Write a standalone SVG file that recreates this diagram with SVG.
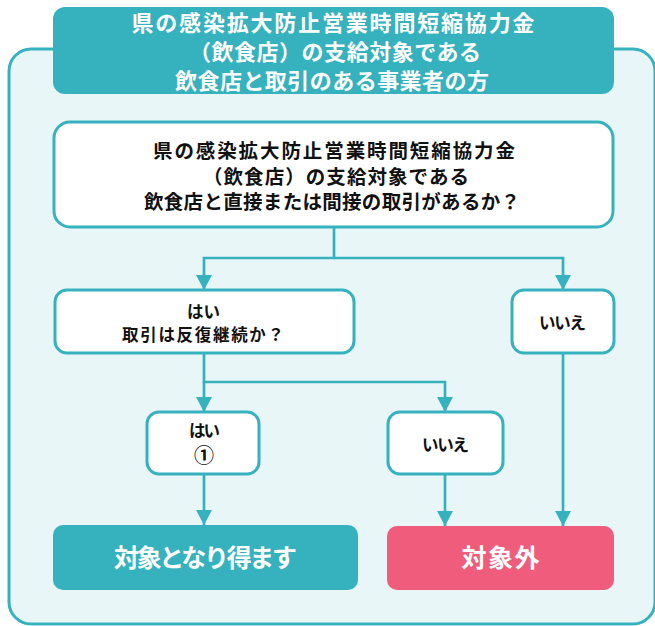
<svg xmlns="http://www.w3.org/2000/svg" width="655" height="626" viewBox="0 0 655 626">
<defs>
<style>
text{font-family:"Liberation Sans","Noto Sans CJK JP",sans-serif;font-weight:bold;text-anchor:middle;dominant-baseline:central}
.hd{fill:#fff;font-size:22px}
.q{fill:#111;font-size:19.5px}
.s{fill:#111;font-size:16.5px}
.res{fill:#fff;font-size:25px}
.box{fill:#fff;stroke:#36b2bf;stroke-width:3}
.con{fill:none;stroke:#36b2bf;stroke-width:2.7}
</style>
<marker id="ah" markerUnits="userSpaceOnUse" markerWidth="16" markerHeight="16" refX="15" refY="8" orient="auto" viewBox="0 0 16 16">
<path d="M0,0 L15,8 L0,16 z" fill="#36b2bf"/>
</marker>
</defs>
<rect id="bg" x="0" y="0" width="655" height="626" fill="#fff"/>
<g id="outer">
<rect x="9" y="49" width="646" height="575" rx="22" fill="#e8f6f8" stroke="#36b2bf" stroke-width="3"/>
</g>
<g id="header">
<rect x="53" y="7" width="561" height="87" rx="12" fill="#36b2bf"/>
<text class="hd" x="333" y="23" textLength="403">県の感染拡大防止営業時間短縮協力金</text>
<text class="hd" x="335" y="52" textLength="292">（飲食店）の支給対象である</text>
<text class="hd" x="332" y="81" textLength="314">飲食店と取引のある事業者の方</text>
</g>
<g id="connectors">
<path class="con" d="M334,227 V258 H204 V290" marker-end="url(#ah)"/>
<path class="con" d="M334,258 H563 V290" marker-end="url(#ah)"/>
<path class="con" d="M204,353 V382 H445 V412" marker-end="url(#ah)"/>
<path class="con" d="M204,382 V412" marker-end="url(#ah)"/>
<path class="con" d="M563,353 V526" marker-end="url(#ah)"/>
<path class="con" d="M204,474 V525" marker-end="url(#ah)"/>
<path class="con" d="M445,474 V526" marker-end="url(#ah)"/>
</g>
<g id="q1">
<rect class="box" x="54" y="122" width="559" height="105" rx="16"/>
<text class="q" x="334" y="151" textLength="362">県の感染拡大防止営業時間短縮協力金</text>
<text class="q" x="336" y="177" textLength="266">（飲食店）の支給対象である</text>
<text class="q" x="332" y="202" textLength="376">飲食店と直接または間接の取引があるか？</text>
</g>
<g id="yes1">
<rect class="box" x="55" y="290" width="299" height="63" rx="12"/>
<text class="s" x="203.5" y="312" textLength="33">はい</text>
<text class="s" x="203" y="335" textLength="162">取引は反復継続か？</text>
</g>
<g id="no1">
<rect class="box" x="512" y="290" width="102" height="63" rx="12"/>
<text class="s" x="562.5" y="323" textLength="47">いいえ</text>
</g>
<g id="yes2">
<rect class="box" x="147" y="412" width="112" height="62" rx="12"/>
<text class="s" x="204.5" y="431" textLength="31">はい</text>
<text class="s" x="204" y="456" style="font-size:20px">①</text>
</g>
<g id="no2">
<rect class="box" x="388" y="412" width="115" height="62" rx="12"/>
<text class="s" x="445.5" y="445" textLength="47">いいえ</text>
</g>
<g id="result-ok">
<rect x="53" y="525" width="305" height="65" rx="10" fill="#36b2bf"/>
<text class="res" x="205.5" y="558" textLength="183">対象となり得ます</text>
</g>
<g id="result-ng">
<rect x="387" y="526" width="227" height="64" rx="10" fill="#f05c7c"/>
<text class="res" x="500.5" y="558" textLength="78">対象外</text>
</g>
</svg>
